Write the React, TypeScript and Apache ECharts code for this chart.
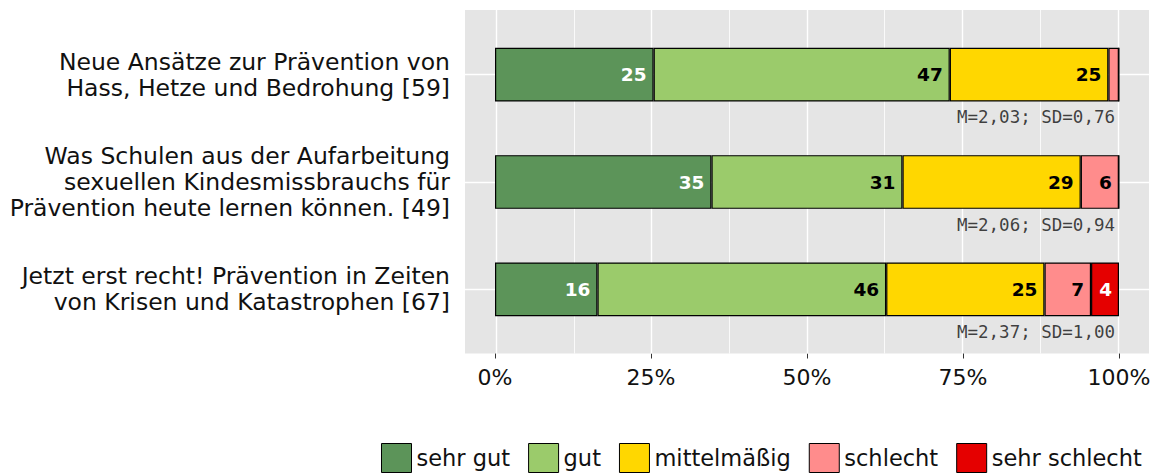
import React, { useEffect, useRef } from "react";
import * as echarts from "echarts";

const categories = [
  "Neue Ansätze zur Prävention von\nHass, Hetze und Bedrohung [59]",
  "Was Schulen aus der Aufarbeitung\nsexuellen Kindesmissbrauchs für\nPrävention heute lernen können. [49]",
  "Jetzt erst recht! Prävention in Zeiten\nvon Krisen und Katastrophen [67]",
];
const levels = ["sehr gut", "gut", "mittelmäßig", "schlecht", "sehr schlecht"];
const sehrGut = [25.42, 34.69, 16.42];
const gut = [47.46, 30.61, 46.27];
const mittel = [25.42, 28.57, 25.37];
const schlecht = [1.69, 6.12, 7.46];
const sehrSchlecht = [0, 0, 4.48];
const meanValues = [2.03, 2.06, 2.37];
const sdValues = [0.76, 0.94, 1.0];
const majorTicks = [0, 25, 50, 75, 100];
const minorTicks = [12.5, 37.5, 62.5, 87.5];

const colors = ["#5C9459", "#9BCB6B", "#FFD700", "#FF8C8C", "#E50000"];
const labelColors = ["#ffffff", "#000000", "#000000", "#000000", "#ffffff"];
const FONT = "DejaVu Sans";

const fmt = (v: number) => v.toFixed(2).replace(".", ",");

export default function App() {
  const ref = useRef<HTMLDivElement>(null);
  useEffect(() => {
    if (!ref.current) return;
    const chart = echarts.init(ref.current, undefined, { renderer: "svg" });
    const seriesValues = [sehrGut, gut, mittel, schlecht, sehrSchlecht];
    const barSeries = levels.map((name, i) => ({
      name,
      type: "bar",
      stack: "total",
      xAxisIndex: 0,
      yAxisIndex: 0,
      barWidth: "50%",
      z: 3,
      itemStyle: { color: colors[i], borderColor: "#000", borderWidth: 1.2 },
      label: {
        show: true,
        position: "insideRight",
        distance: 7,
        fontFamily: FONT,
        fontWeight: "bold",
        fontSize: 18.5,
        color: labelColors[i],
        formatter: (p: any) => (p.value >= 3 ? String(Math.round(p.value)) : ""),
      },
      data: seriesValues[i],
    }));

    const option: any = {
      animation: false,
      grid: [
        { left: 495, right: 51, top: 21, bottom: 130, containLabel: false },
        {
          left: 465,
          right: 21,
          top: 10,
          bottom: 119.5,
          show: true,
          backgroundColor: "#E5E5E5",
          borderWidth: 0,
        },
      ],
      xAxis: [
        {
          type: "value",
          gridIndex: 0,
          min: 0,
          max: 100,
          interval: 25,
          offset: 10.5,
          axisLine: { show: false },
          axisTick: { show: true, length: 5, lineStyle: { color: "#333", width: 1 } },
          splitLine: { show: false },
          axisLabel: {
            margin: 13,
            fontFamily: FONT,
            fontSize: 22,
            color: "#111",
            formatter: (v: number) => v + "%",
          },
        },
        { type: "value", gridIndex: 1, min: -5, max: 105, show: false },
      ],
      yAxis: [
        {
          type: "category",
          gridIndex: 0,
          data: categories,
          inverse: true,
          offset: 30,
          axisLine: { show: false },
          axisTick: { show: true, length: 5, alignWithLabel: true, lineStyle: { color: "#333", width: 1 } },
          splitLine: { show: false },
          axisLabel: {
            margin: 15,
            fontFamily: FONT,
            fontSize: 23.5,
            lineHeight: 26,
            color: "#111",
            align: "right",
          },
        },
        { type: "value", gridIndex: 1, min: -0.6, max: 2.6, inverse: true, show: false },
      ],
      legend: {
        data: levels,
        left: 376,
        top: 438,
        itemWidth: 30,
        itemHeight: 29,
        itemGap: 18,
        icon: "rect",
        itemStyle: { borderColor: "#000", borderWidth: 1 },
        textStyle: { fontFamily: FONT, fontSize: 22.5, color: "#111" },
      },
      series: [
        {
          type: "scatter",
          xAxisIndex: 1,
          yAxisIndex: 1,
          symbolSize: 0,
          silent: true,
          z: 1,
          data: [[-5, -0.6]],
          markLine: {
            silent: true,
            symbol: "none",
            label: { show: false },
            z: 1,
            data: [
              ...majorTicks.map((v) => ({ xAxis: v, lineStyle: { color: "#fff", width: 1.4, type: "solid" } })),
              ...minorTicks.map((v) => ({ xAxis: v, lineStyle: { color: "#fff", width: 0.8, type: "solid" } })),
              ...categories.map((_, i) => ({ yAxis: i, lineStyle: { color: "#fff", width: 1.4, type: "solid" } })),
            ],
          },
        },
        ...barSeries,
        {
          type: "scatter",
          xAxisIndex: 0,
          yAxisIndex: 0,
          symbolSize: 0,
          silent: true,
          z: 4,
          data: categories.map((c) => [100, c]),
          label: {
            show: true,
            position: "left",
            distance: 4,
            offset: [0, 42.5],
            fontFamily: "DejaVu Sans Mono",
            fontSize: 17.5,
            color: "#111",
            formatter: (p: any) => `M=${fmt(meanValues[p.dataIndex])}; SD=${fmt(sdValues[p.dataIndex])}`,
          },
        },
      ],
    };
    chart.setOption(option);
    return () => chart.dispose();
  }, []);
  return (
    <div
      ref={ref}
      style={{ position: "absolute", left: 0, top: 0, width: 1170, height: 473, background: "#fff" }}
    />
  );
}
